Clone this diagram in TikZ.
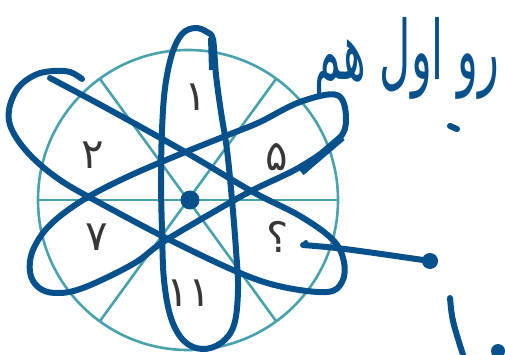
\documentclass[tikz,border=0pt]{standalone}
\usepackage{fontspec}
\usetikzlibrary{calc}
\newfontfamily\arabicfont[Script=Arabic]{DejaVu Sans}
\TeXXeTstate=1
\definecolor{teal1}{RGB}{72,162,174}
\definecolor{penblue}{RGB}{6,80,140}
\definecolor{digitgray}{RGB}{55,55,55}
\tikzset{
  wheel/.style={draw=teal1, line width=2.6pt},
  pen/.style={draw=penblue, line width=6pt, line cap=round, line join=round},
  digit/.style={text=digitgray, font=\arabicfont\fontsize{42}{42}\selectfont, inner sep=0pt},
}
\begin{document}
\begin{tikzpicture}[x=1pt,y=-1pt]
\useasboundingbox (0,0) rectangle (505,355);
% wheel
\coordinate (c) at (188,200);
\draw[wheel] (c) circle[radius=150pt];
\draw[wheel] ($(c)+(-150,0)$) -- ($(c)+(150,0)$);
\draw[wheel] ($(c)+(-88,-121)$) -- ($(c)+(88,121)$);
\draw[wheel] ($(c)+(88,-121)$) -- ($(c)+(-88,121)$);
% digits
\node[digit] (d1) at (196,97) {۱};
\node[digit] (d2) at (93,155) {۲};
\node[digit] (d5) at (277,157) {۵};
\node[digit] (d7) at (97,237) {۷};
\node[digit] (dq) at (278,237) {؟};
\node[digit] (d11) at (189,293) {۱۱};
% vertical loop
\draw[pen] plot[smooth cycle, tension=0.6] coordinates {
 (213,40) (216,75) (221,112) (227,150) (232,200) (236,250) (238,290) (234,325)
 (221,343) (202,349) (184,341) (171,318) (164,280) (162,230) (161,180) (162,130)
 (165,88) (172,54) (182,34) (195,28) (207,32)};
\draw[pen, line width=8pt, line cap=butt] (212,38) -- (213,70);
% loop A (upper left to lower right)
\draw[pen] plot[smooth, tension=0.6] coordinates {
 (50,78) (110,110) (187,153) (253,192) (300,216) (333,240) (344,262) (342,282)
 (327,292) (283,287) (240,273) (170,240) (100,203) (60,180) (30,155) (12,130)
 (9,110) (18,88) (35,75) (53,71) (70,72) (82,79)};
% loop B (lower left to upper right)
\draw[pen] plot[smooth cycle, tension=0.6] coordinates {
 (337,95) (300,102) (260,122) (233,133) (183,153) (127,177) (83,200) (50,225)
 (33,250) (30,272) (38,287) (55,293) (83,288) (133,264) (163,242) (217,210)
 (253,190) (300,167) (338,140) (346,118)};
\draw[pen, line width=8pt, line cap=butt] (342,137) -- (301,172);
% centre dot
\node[circle, fill=penblue, minimum size=19pt, inner sep=0pt] (cd) at (190,200) {};
% arrow to dot
\coordinate (qs) at (303,245);
\node[circle, fill=penblue, minimum size=16pt, inner sep=0pt] (rd) at (430,261) {};
\draw[pen] (qs) .. controls (340,248) .. (rd.center);
\draw[pen, line width=4pt] (qs) -- ++(3,-3);
% handwritten note
\node[text=penblue, font=\arabicfont\fontsize{43}{43}\selectfont, inner sep=0pt] (note) at (407,58) {\scalebox{1}[1.9]{\beginR رو اول هم\endR}};
\coordinate (m1) at (450,126);
\coordinate (m2) at (457,129);
\draw[pen] (m1) -- (m2);
% bottom right marks
\coordinate (b1) at (450,298);
\coordinate (b2) at (464,358);
\draw[pen] (b1) .. controls (452,320) .. (b2);
\node[circle, fill=penblue, minimum size=14pt, inner sep=0pt] (bd) at (498,351) {};
\end{tikzpicture}
\end{document}
